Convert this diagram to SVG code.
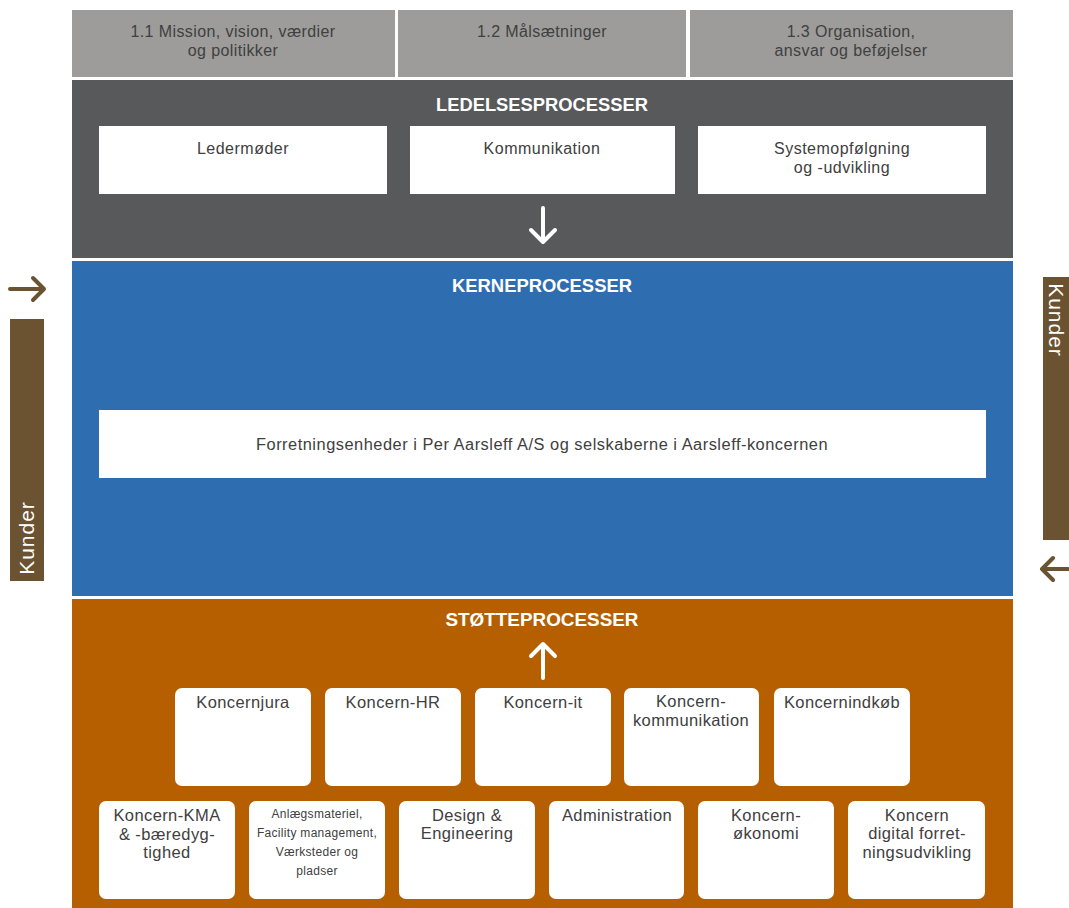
<svg xmlns="http://www.w3.org/2000/svg" width="1069" height="908" viewBox="0 0 1069 908">
<style>
text{font-family:"Liberation Sans",Arial,sans-serif;fill:#404040;text-anchor:middle}
.hd{font-size:16px;letter-spacing:0.4px}
.bx{font-size:16px;letter-spacing:0.5px}
.sb{font-size:16.5px;letter-spacing:0.4px}
.sm{font-size:12px;letter-spacing:0.3px}
.ttl{font-size:19px;font-weight:bold;fill:#fff}
.kd{font-size:21px;letter-spacing:1px;fill:#fff}
.wb{fill:#fff}
.rb{fill:#fff}
.wa{fill:none;stroke:#fff;stroke-width:4;stroke-linecap:round;stroke-linejoin:round}
.ba{fill:none;stroke:#6b5331;stroke-width:4;stroke-linecap:round;stroke-linejoin:round}
</style>
<rect width="1069" height="908" fill="#fff"/>
<g id="top">
<rect x="72" y="10" width="323" height="67" fill="#9d9c9a"/>
<rect x="398" y="10" width="288" height="67" fill="#9d9c9a"/>
<rect x="690" y="10" width="323" height="67" fill="#9d9c9a"/>
<text class="hd" x="233" y="37">1.1 Mission, vision, værdier</text>
<text class="hd" x="233" y="56">og politikker</text>
<text class="hd" x="542" y="37">1.2 Målsætninger</text>
<text class="hd" x="851" y="37">1.3 Organisation,</text>
<text class="hd" x="851" y="56">ansvar og beføjelser</text>
</g>
<g id="ledelse">
<rect x="72" y="80" width="941" height="178" fill="#58595b"/>
<text class="ttl" x="542" y="111" textLength="212" lengthAdjust="spacingAndGlyphs">LEDELSESPROCESSER</text>
<rect class="wb" x="99" y="126" width="288" height="68"/>
<rect class="wb" x="410" y="126" width="265" height="68"/>
<rect class="wb" x="698" y="126" width="288" height="68"/>
<text class="bx" x="243" y="154">Ledermøder</text>
<text class="bx" x="542" y="154">Kommunikation</text>
<text class="bx" x="842" y="154">Systemopfølgning</text>
<text class="bx" x="842" y="173">og -udvikling</text>
</g>
<g id="kerne">
<rect x="72" y="261" width="941" height="335" fill="#2e6db0"/>
<text class="ttl" x="542" y="292" textLength="180" lengthAdjust="spacingAndGlyphs">KERNEPROCESSER</text>
<rect class="wb" x="99" y="410" width="887" height="68"/>
<text class="bx" x="542" y="450" textLength="572" lengthAdjust="spacingAndGlyphs">Forretningsenheder i Per Aarsleff A/S og selskaberne i Aarsleff-koncernen</text>
</g>
<g id="stoette">
<rect x="72" y="599" width="941" height="309" fill="#b55f00"/>
<text class="ttl" x="542" y="626" textLength="193" lengthAdjust="spacingAndGlyphs">STØTTEPROCESSER</text>
</g>
<g id="koncernjura"><rect class="rb" x="175" y="688" width="136" height="98" rx="7"/><text class="sb" x="243" y="708">Koncernjura</text></g>
<g id="koncern-hr"><rect class="rb" x="325" y="688" width="136" height="98" rx="7"/><text class="sb" x="393" y="708">Koncern-HR</text></g>
<g id="koncern-it"><rect class="rb" x="475" y="688" width="136" height="98" rx="7"/><text class="sb" x="543" y="708">Koncern-it</text></g>
<g id="koncern-komm"><rect class="rb" x="624" y="688" width="135" height="98" rx="7"/><text class="sb" x="691" y="707">Koncern-</text><text class="sb" x="691" y="726">kommunikation</text></g>
<g id="koncernindkoeb"><rect class="rb" x="774" y="688" width="136" height="98" rx="7"/><text class="sb" x="842" y="708">Koncernindkøb</text></g>
<g id="kma"><rect class="rb" x="99" y="801" width="136" height="98" rx="7"/><text class="sb" x="167" y="821">Koncern-KMA</text><text class="sb" x="167" y="840">&amp; -bæredyg-</text><text class="sb" x="167" y="858">tighed</text></g>
<g id="anlaeg"><rect class="rb" x="249" y="801" width="136" height="98" rx="7"/><text class="sm" x="317" y="818">Anlægsmateriel,</text><text class="sm" x="317" y="837">Facility management,</text><text class="sm" x="317" y="856">Værksteder og</text><text class="sm" x="317" y="875">pladser</text></g>
<g id="design"><rect class="rb" x="399" y="801" width="136" height="98" rx="7"/><text class="sb" x="467" y="821">Design &amp;</text><text class="sb" x="467" y="839">Engineering</text></g>
<g id="admin"><rect class="rb" x="549" y="801" width="135" height="98" rx="7"/><text class="sb" x="617" y="821">Administration</text></g>
<g id="oekonomi"><rect class="rb" x="698" y="801" width="136" height="98" rx="7"/><text class="sb" x="766" y="821">Koncern-</text><text class="sb" x="766" y="839">økonomi</text></g>
<g id="digital"><rect class="rb" x="848" y="801" width="137" height="98" rx="7"/><text class="sb" x="917" y="821">Koncern</text><text class="sb" x="917" y="839">digital forret-</text><text class="sb" x="917" y="858">ningsudvikling</text></g>
<g id="kunder-left">
<rect x="10" y="319" width="34" height="262" fill="#6b5331"/>
<text class="kd" transform="translate(34,538) rotate(-90)">Kunder</text>
</g>
<g id="kunder-right">
<rect x="1043" y="277" width="26" height="263" fill="#6b5331"/>
<text class="kd" transform="translate(1049,320) rotate(90)">Kunder</text>
</g>
<g id="connectors">
<path class="wa" d="M543 208 V242 M531 230 L543 242 L555 230"/>
<path class="wa" d="M543 678 V644 M531 656 L543 644 L555 656"/>
<path class="ba" d="M10 289 H44 M33 278 L44 289 L33 300"/>
<path class="ba" d="M1068 569 H1042 M1053 558 L1042 569 L1053 580"/>
</g>
</svg>
